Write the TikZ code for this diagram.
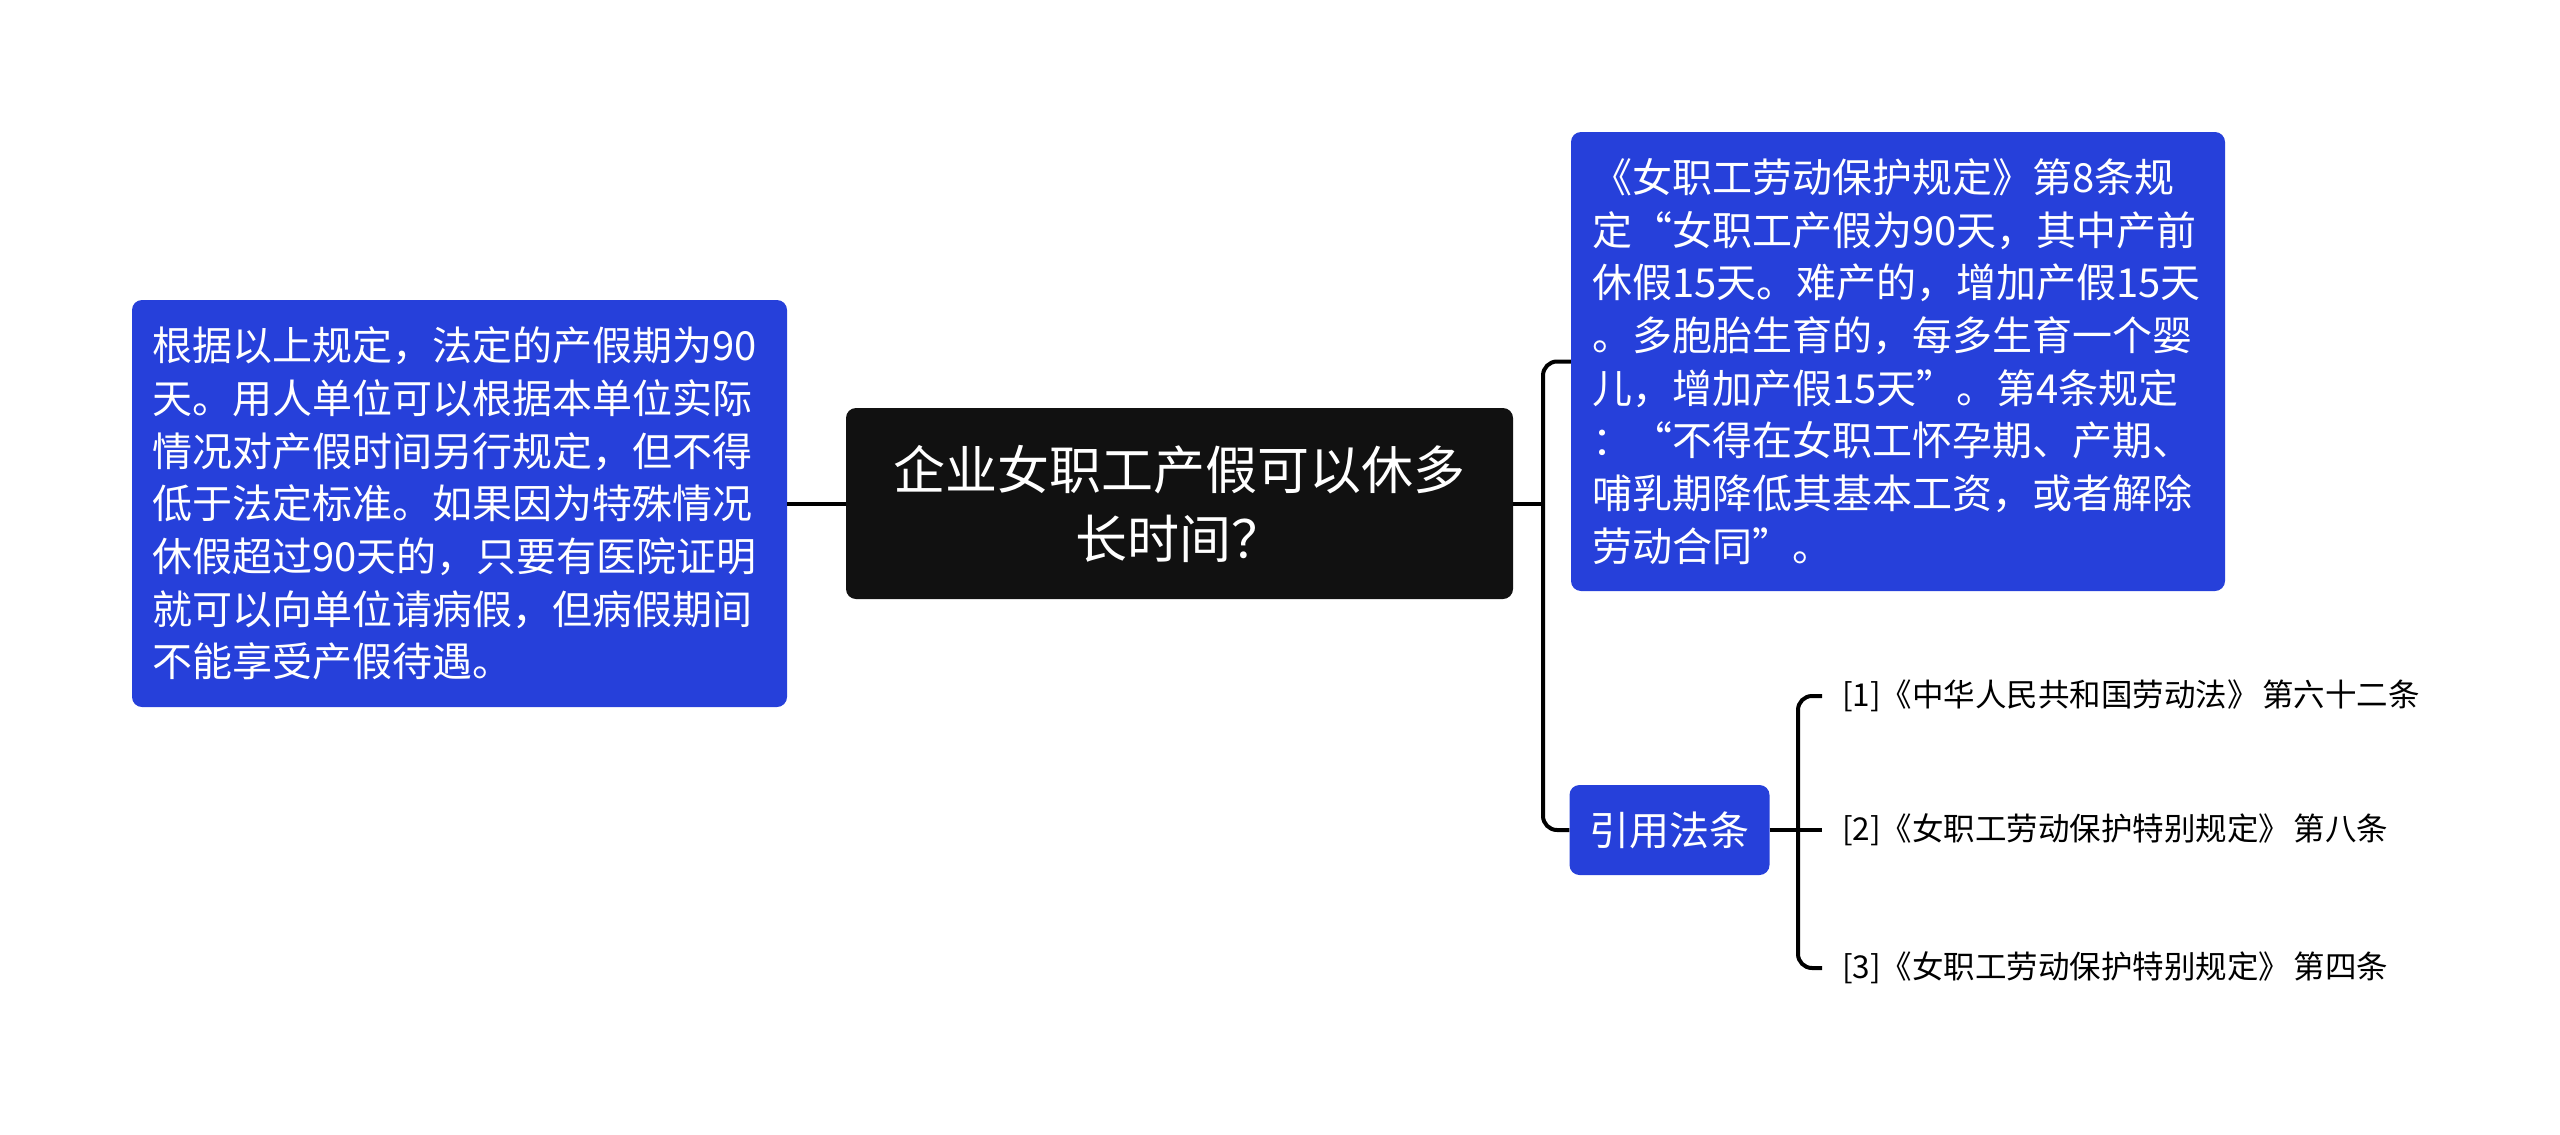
\documentclass[tikz,border=0pt]{standalone}
\usepackage{fontspec}
\newfontfamily\cjk{Noto Sans CJK SC}
\definecolor{nodeblue}{RGB}{38,64,218}
\definecolor{nodeblack}{RGB}{17,17,17}
\begin{document}
\begin{tikzpicture}[x=1pt,y=-1pt,
  bluebox/.style={fill=nodeblue, text=white, rounded corners=10pt, inner xsep=20pt, inner ysep=0pt,
     font={\cjk\fontsize{40}{52.7}\selectfont}},
  rootbox/.style={fill=nodeblack, text=white, rounded corners=10pt, align=center,
     minimum width=667pt, minimum height=191pt, font={\cjk\fontsize{52}{69}\selectfont}},
  leaf/.style={anchor=west, inner xsep=20pt, inner ysep=4pt, text=black, font={\cjk\fontsize{31.5}{40}\selectfont}},
  conn/.style={line width=4pt, draw=black},
  bracket/.style={conn, rounded corners=14pt}]
\useasboundingbox (0,0) rectangle (2560,1135);

\node[rootbox] (root) at (1179.5,503.5) {企业女职工产假可以休多\\长时间？};

\node[bluebox, align=left, text width=615pt, minimum width=655pt, minimum height=407pt]
  (left) at (459.5,503.5)
  {根据以上规定，法定的产假期为90\\
   天。用人单位可以根据本单位实际\\
   情况对产假时间另行规定，但不得\\
   低于法定标准。如果因为特殊情况\\
   休假超过90天的，只要有医院证明\\
   就可以向单位请病假，但病假期间\\
   不能享受产假待遇。};

\node[bluebox, align=left, text width=612pt, minimum width=654pt, minimum height=459pt]
  (rt) at (1898,361.5)
  {《女职工劳动保护规定》第8条规\\
   定“女职工产假为90天，其中产前\\
   休假15天。难产的，增加产假15天\\
   。多胞胎生育的，每多生育一个婴\\
   儿，增加产假15天”。第4条规定\\
   ：“不得在女职工怀孕期、产期、\\
   哺乳期降低其基本工资，或者解除\\
   劳动合同”。};

\node[bluebox, align=center, minimum width=197pt, minimum height=90pt] (ref) at (1669.5,830) {引用法条};

\node[leaf] (l1) at (1822,696) {[1]《中华人民共和国劳动法》\hspace{0.1em}第六十二条};
\node[leaf] (l2) at (1822,830) {[2]《女职工劳动保护特别规定》\hspace{0.1em}第八条};
\node[leaf] (l3) at (1822,968) {[3]《女职工劳动保护特别规定》\hspace{0.1em}第四条};

\coordinate (b1) at (1543,503.5);
\coordinate (b2) at (1798,830);

\draw[conn] (root.west) -- (left.east);
\draw[conn] (root.east) -- (b1);
\draw[bracket] (rt.west) -| (b1) |- (ref.west);
\draw[conn] (ref.east) -- (b2);
\draw[bracket] (l1.west) -| (b2) |- (l3.west);
\draw[conn] (b2) -- (l2.west);
\end{tikzpicture}
\end{document}
